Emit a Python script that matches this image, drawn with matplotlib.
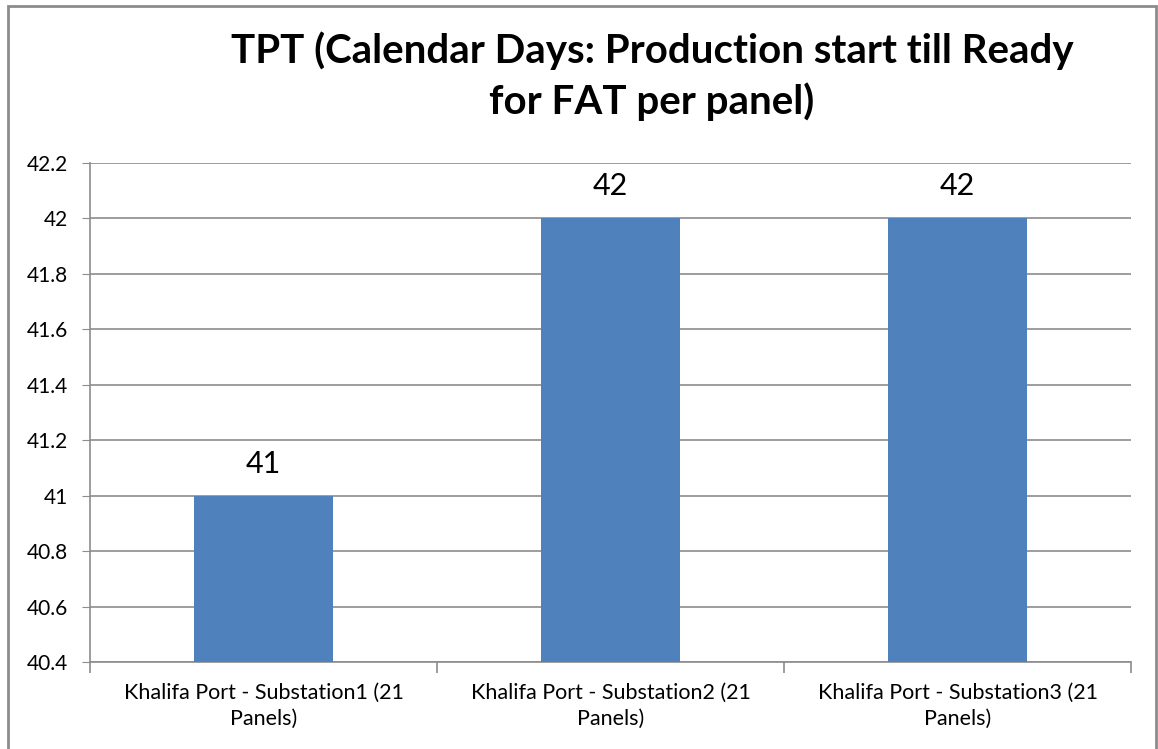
import matplotlib.pyplot as plt
from matplotlib.patches import Rectangle

# chart data
categories = ['Khalifa Port - Substation1 (21\nPanels)',
              'Khalifa Port - Substation2 (21\nPanels)',
              'Khalifa Port - Substation3 (21\nPanels)']
values = [41, 42, 42]
y_ticks = [40.4, 40.6, 40.8, 41, 41.2, 41.4, 41.6, 41.8, 42, 42.2]
y_labels = ['40.4', '40.6', '40.8', '41', '41.2', '41.4', '41.6', '41.8', '42', '42.2']
title = 'TPT (Calendar Days: Production start till Ready\nfor FAT per panel)'

plt.rcParams['font.family'] = ['Lato', 'DejaVu Sans']

W, H = 1158, 749
fig = plt.figure(figsize=(W / 100, H / 100), dpi=100)

# outer chart frame
fig.patches.append(Rectangle((8 / W, -0.05), (1156 - 8) / W, 1.05 - 6 / H,
                             transform=fig.transFigure, fill=False,
                             edgecolor='#8c8c8c', linewidth=2))

ax = fig.add_axes([90 / W, 1 - 662 / H, (1131 - 90) / W, (662 - 163) / H])

x = range(len(values))
ax.bar(x, values, width=0.4, color='#4f81bd', zorder=3)
for i, v in enumerate(values):
    ax.text(i, v + 0.065, str(v), ha='center', va='bottom', fontsize=22)

ax.set_xlim(-0.5, len(values) - 0.5)
ax.set_ylim(40.4, 42.2)
ax.set_yticks(y_ticks)
ax.set_yticklabels(y_labels, fontsize=15)
ax.yaxis.grid(True, color='#8c8c8c', linewidth=1.2, zorder=0)
ax.tick_params(axis='y', length=6, color='#8c8c8c', pad=10)

# category labels centred, ticks on the boundaries
ax.set_xticks(list(x))
ax.set_xticklabels(categories, fontsize=15.5, linespacing=1.4)
ax.tick_params(axis='x', which='major', length=0, pad=15)
ax.set_xticks([-0.5, 0.5, 1.5, 2.5], minor=True)
ax.tick_params(axis='x', which='minor', length=8, color='#8c8c8c', width=1.2)

for side in ['top', 'right']:
    ax.spines[side].set_visible(False)
for side in ['left', 'bottom']:
    ax.spines[side].set_color('#8c8c8c')
    ax.spines[side].set_linewidth(1.2)

fig.text(652 / W, 1 - 76 / H, title, ha='center', va='center',
         fontsize=29, fontweight='bold', linespacing=1.4)

fig.savefig('out.png', dpi=100, facecolor='white')
